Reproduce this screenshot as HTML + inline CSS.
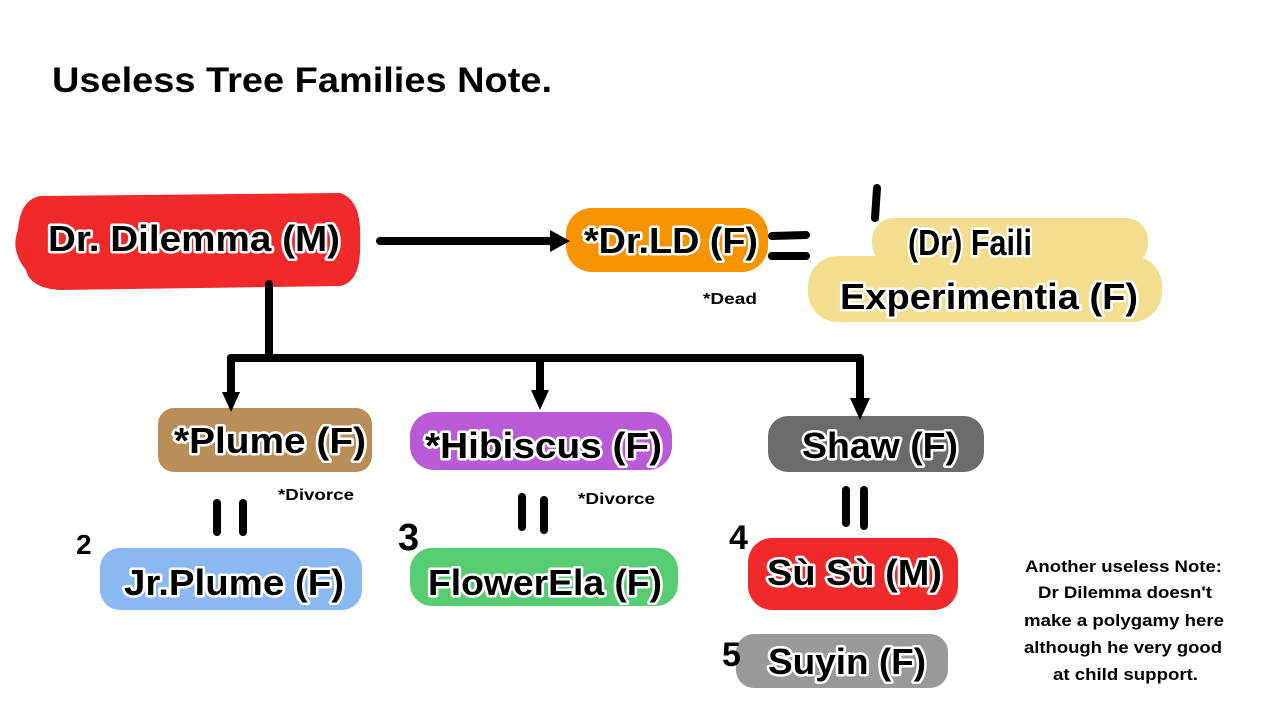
<!DOCTYPE html>
<html><head><meta charset="utf-8"><style>
html,body{margin:0;padding:0;background:#fff;width:1280px;height:720px;overflow:hidden}
svg{display:block}
.t{font-family:"Liberation Sans",sans-serif;font-weight:bold;font-size:36px;fill:#000;stroke:#fff;stroke-width:5px;paint-order:stroke;stroke-linejoin:round}
.s{font-family:"Liberation Sans",sans-serif;font-weight:bold;font-size:16px;fill:#000}
.n{font-family:"Liberation Sans",sans-serif;font-weight:bold;font-size:17px;fill:#000}
.l{stroke:#000;stroke-width:8;stroke-linecap:round;fill:none}
</style></head><body>
<svg width="1280" height="720" viewBox="0 0 1280 720">
<text x="52" y="92" font-family="Liberation Sans, sans-serif" font-weight="bold" font-size="35" textLength="500" lengthAdjust="spacingAndGlyphs">Useless Tree Families Note.</text>

<path d="M40 196 L340 193 Q362 200 360 240 Q362 282 340 286 L60 290 Q30 288 26 270 Q10 250 18 230 Q20 200 40 196Z" fill="#f02a2a"/>
<rect x="566" y="208" width="202" height="64" rx="26" fill="#f59300"/>
<rect x="872" y="218" width="276" height="48" rx="22" fill="#f2de8e"/>
<rect x="808" y="256" width="354" height="66" rx="30" fill="#f2de8e"/>
<rect x="158" y="408" width="214" height="64" rx="16" fill="#b98f57"/>
<rect x="410" y="412" width="262" height="58" rx="24" fill="#b95bd6"/>
<rect x="768" y="416" width="216" height="56" rx="20" fill="#6b6b6b"/>
<rect x="100" y="548" width="262" height="62" rx="20" fill="#8ab8f0"/>
<rect x="410" y="548" width="268" height="58" rx="22" fill="#58cc73"/>
<rect x="748" y="538" width="210" height="72" rx="24" fill="#f02a2a"/>
<rect x="736" y="634" width="212" height="54" rx="18" fill="#999"/>

<line class="l" x1="380" y1="241" x2="552" y2="241"/>
<path d="M550 230 L570 241 L550 252Z"/>
<line class="l" x1="772" y1="236" x2="806" y2="235"/>
<line class="l" x1="772" y1="256" x2="806" y2="256"/>
<line class="l" x1="269" y1="284" x2="269" y2="355"/>
<line class="l" x1="231" y1="358" x2="860" y2="358"/>
<line class="l" x1="231" y1="358" x2="231" y2="395"/>
<path d="M222 392 L240 392 L231 412Z"/>
<line class="l" x1="540" y1="358" x2="540" y2="395"/>
<path d="M531 390 L549 390 L540 410Z"/>
<line class="l" x1="860" y1="358" x2="860" y2="400"/>
<path d="M850 398 L870 398 L860 420Z"/>
<line class="l" x1="217" y1="503" x2="217" y2="532"/>
<line class="l" x1="243" y1="503" x2="243" y2="532"/>
<line class="l" x1="522" y1="497" x2="522" y2="527"/>
<line class="l" x1="544" y1="500" x2="544" y2="530"/>
<line class="l" x1="846" y1="490" x2="846" y2="523"/>
<line class="l" x1="864" y1="490" x2="864" y2="526"/>
<line class="l" x1="877" y1="188" x2="875" y2="218"/>

<text x="76" y="554" font-family="Liberation Sans,sans-serif" font-weight="bold" font-size="28">2</text>
<text x="398" y="550" font-family="Liberation Sans,sans-serif" font-weight="bold" font-size="38">3</text>
<text x="729" y="549" font-family="Liberation Sans,sans-serif" font-weight="bold" font-size="34">4</text>
<text x="722" y="666" font-family="Liberation Sans,sans-serif" font-weight="bold" font-size="34">5</text>

<text class="t" x="48" y="251" textLength="292" lengthAdjust="spacingAndGlyphs">Dr. Dilemma (M)</text>
<text class="t" x="584" y="253" textLength="174" lengthAdjust="spacingAndGlyphs">*Dr.LD (F)</text>
<text class="t" x="908" y="255" textLength="124" lengthAdjust="spacingAndGlyphs">(Dr) Faili</text>
<text class="t" x="840" y="309" textLength="298" lengthAdjust="spacingAndGlyphs">Experimentia (F)</text>
<text class="s" x="703" y="304" textLength="54" lengthAdjust="spacingAndGlyphs">*Dead</text>
<text class="t" x="174" y="453" textLength="192" lengthAdjust="spacingAndGlyphs">*Plume (F)</text>
<text class="s" x="278" y="500" textLength="76" lengthAdjust="spacingAndGlyphs">*Divorce</text>
<text class="t" x="425" y="458" textLength="237" lengthAdjust="spacingAndGlyphs">*Hibiscus (F)</text>
<text class="s" x="578" y="504" textLength="77" lengthAdjust="spacingAndGlyphs">*Divorce</text>
<text class="t" x="802" y="458" textLength="156" lengthAdjust="spacingAndGlyphs">Shaw (F)</text>
<text class="t" x="124" y="595" textLength="220" lengthAdjust="spacingAndGlyphs">Jr.Plume (F)</text>
<text class="t" x="428" y="595" textLength="234" lengthAdjust="spacingAndGlyphs">FlowerEla (F)</text>
<text class="t" x="767" y="585" textLength="175" lengthAdjust="spacingAndGlyphs">Sù Sù (M)</text>
<text class="t" x="768" y="674" textLength="158" lengthAdjust="spacingAndGlyphs">Suyin (F)</text>

<text class="n" x="1025" y="572" textLength="197" lengthAdjust="spacingAndGlyphs">Another useless Note:</text>
<text class="n" x="1038" y="598" textLength="174" lengthAdjust="spacingAndGlyphs">Dr Dilemma doesn't</text>
<text class="n" x="1024" y="626" textLength="200" lengthAdjust="spacingAndGlyphs">make a polygamy here</text>
<text class="n" x="1024" y="653" textLength="198" lengthAdjust="spacingAndGlyphs">although he very good</text>
<text class="n" x="1053" y="680" textLength="145" lengthAdjust="spacingAndGlyphs">at child support.</text>
</svg>
</body></html>
